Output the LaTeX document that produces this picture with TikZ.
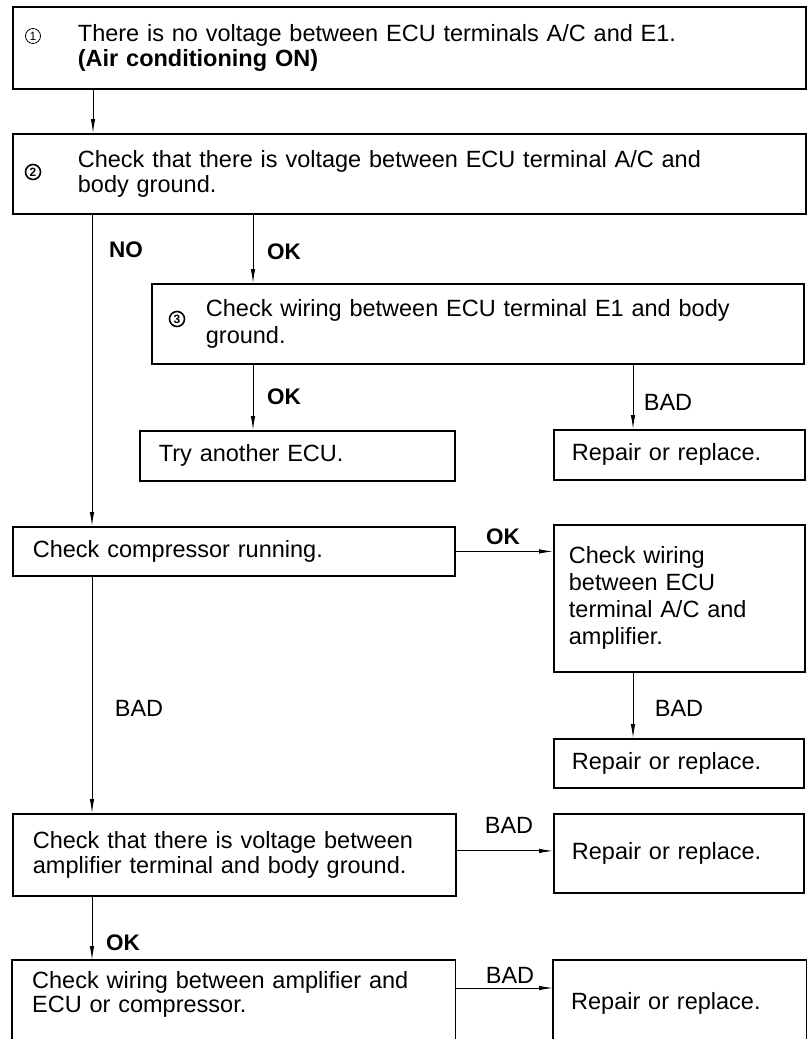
\documentclass[tikz,border=0pt]{standalone}
\usepackage{fontspec}
\setmainfont{Liberation Sans}
\usetikzlibrary{arrows.meta}
\begin{document}
\begin{tikzpicture}[x=1pt,y=-1pt,
  boxline/.style={line width=1.8pt},
  box/.style={boxline, draw, anchor=north west, inner sep=0pt, align=left,
    font=\fontsize{23.5}{25}\selectfont},
  openbox/.style={anchor=north west, inner sep=0pt, align=left,
    font=\fontsize{23.5}{24}\selectfont},
  conn/.style={line width=0.9pt, -{Latex[length=14pt,width=4.5pt]}},
  lbl/.style={font=\fontsize{23.5}{24}\selectfont, inner sep=0pt},
  lblb/.style={font=\bfseries\fontsize{22.5}{24}\selectfont, inner sep=0pt},
  numthin/.style={circle, draw, line width=0.8pt, inner sep=0pt, minimum size=15pt,
    font=\fontsize{12}{12}\selectfont},
  numbold/.style={circle, draw, line width=1.6pt, inner sep=0pt, minimum size=15pt,
    font=\bfseries\fontsize{12}{12}\selectfont}
]
\useasboundingbox (0,0) rectangle (809,1039);
\clip (0,0) rectangle (809,1039);

% boxes
\node[box, minimum width=793pt, minimum height=82pt, text width=663pt] (b1) at (12,6)
  {There is no voltage between ECU terminals A/C and E1.\\ \textbf{(Air conditioning ON)}};
\node[box, minimum width=793pt, minimum height=80pt, text width=663pt] (b2) at (12,133)
  {Check that there is voltage between ECU terminal A/C and\\ body ground.};
\node[box, minimum width=652pt, minimum height=80pt, text width=544pt,
  font=\fontsize{23.5}{27}\selectfont] (b3) at (151,283)
  {Check wiring between ECU terminal E1 and body\\ ground.};
\node[box, minimum width=315pt, minimum height=50pt, text width=277pt] (try) at (139,430)
  {Try another ECU.};
\node[box, minimum width=251pt, minimum height=50pt, text width=215pt] (rep1) at (553,429)
  {Repair or replace.};
\node[box, minimum width=442pt, minimum height=49pt, text width=402pt] (comp) at (12,526)
  {Check compressor running.};
\node[box, minimum width=251pt, minimum height=147pt, text width=221pt,
  font=\fontsize{23.5}{27}\selectfont] (wir) at (553,524)
  {Check wiring\\ between ECU\\ terminal A/C and\\ amplifier.};
\node[box, minimum width=250pt, minimum height=49pt, text width=214pt] (rep2) at (553,738)
  {Repair or replace.};
\node[box, minimum width=443pt, minimum height=82pt, text width=403pt] (amp) at (12,813)
  {Check that there is voltage between\\ amplifier terminal and body ground.};
\node[box, minimum width=250pt, minimum height=79pt, text width=214pt] (rep3) at (553,813)
  {Repair or replace.};
\node[openbox, minimum width=443pt, minimum height=68pt, text width=403pt] (bot) at (12,960)
  {Check wiring between amplifier and\\ ECU or compressor.};
\node[openbox, minimum width=253pt, minimum height=86pt, text width=217pt] (rep4) at (553,960)
  {Repair or replace.};
\draw[boxline] ([yshift=-30pt]bot.south west) -- (bot.north west) -- (bot.north east) -- ([yshift=-30pt]bot.south east);
\draw[boxline] ([yshift=-20pt]rep4.south west) -- (rep4.north west) -- (rep4.north east) -- ([yshift=-20pt]rep4.south east);

% circled numbers
\node[numthin] (n1) at (33,36) {1};
\node[numbold] (n2) at (33,172) {2};
\node[numbold] (n3) at (177,319) {3};

% connectors
\draw[conn] ([xshift=81pt]b1.south west) -- ([xshift=81pt]b2.north west);
\draw[conn] ([xshift=80pt]b2.south west) -- ([xshift=80pt]comp.north west);
\draw[conn] ([xshift=241pt]b2.south west) -- ([xshift=102pt]b3.north west);
\draw[conn] ([xshift=102pt]b3.south west) -- ([xshift=114pt]try.north west);
\draw[conn] ([xshift=482pt]b3.south west) -- ([xshift=80pt]rep1.north west);
\draw[conn] (comp.east) -- (wir.west |- comp.east);
\draw[conn] ([xshift=80pt]wir.south west) -- ([xshift=80pt]rep2.north west);
\draw[conn] ([xshift=80pt]comp.south west) -- ([xshift=80pt]amp.north west);
\draw[conn] ([yshift=4pt]amp.east) -- ([yshift=4pt]rep3.west |- amp.east);
\draw[conn] ([xshift=80pt]amp.south west) -- ([xshift=80pt]bot.north west);
\draw[conn] ([yshift=-28pt]bot.north east) -- ([yshift=-28pt]rep4.north west);

% labels
\node[lblb] (lno) at (126,250) {NO};
\node[lblb] (lok1) at (284,252) {OK};
\node[lblb] (lok2) at (284,397) {OK};
\node[lbl] (lbad1) at (668,402) {BAD};
\node[lblb] (lok3) at (503,537) {OK};
\node[lbl] (lbad2) at (139,708) {BAD};
\node[lbl] (lbad3) at (679,708) {BAD};
\node[lbl] (lbad4) at (509,825) {BAD};
\node[lblb] (lok4) at (123,943) {OK};
\node[lbl] (lbad5) at (510,975) {BAD};
\end{tikzpicture}
\end{document}
